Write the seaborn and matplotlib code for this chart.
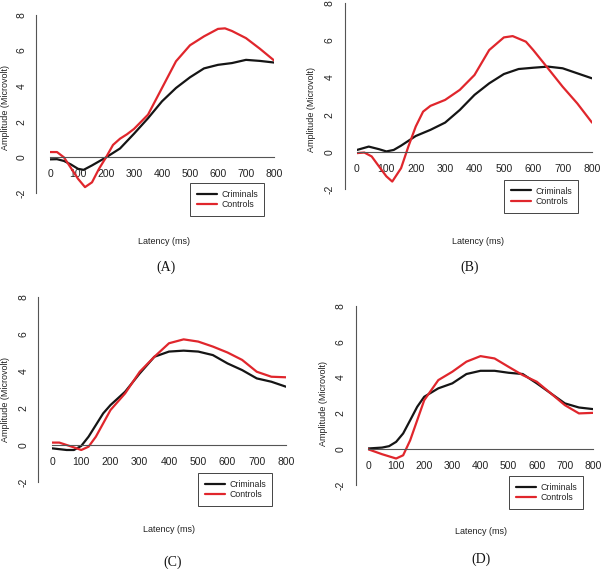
import numpy as np
import pandas as pd
import matplotlib
matplotlib.use('Agg')
import matplotlib.pyplot as plt
from matplotlib.lines import Line2D
import seaborn as sns

# ---- data (latency in ms, amplitude in microvolt) ----
lat_a_crim = [0, 25, 50, 75, 100, 120, 150, 200, 250, 300, 350, 400, 450, 500, 550, 600, 650, 700, 750, 800]
amp_a_crim = [-0.11, -0.1, -0.2, -0.4, -0.64, -0.7, -0.45, 0.0, 0.5, 1.33, 2.2, 3.15, 3.9, 4.5, 5.0, 5.2, 5.3, 5.48, 5.42, 5.33]
lat_a_ctrl = [0, 25, 50, 75, 100, 125, 150, 175, 200, 225, 250, 275, 300, 350, 400, 450, 500, 550, 600, 625, 650, 700, 750, 800]
amp_a_ctrl = [0.3, 0.3, 0.0, -0.6, -1.2, -1.67, -1.4, -0.64, 0.0, 0.7, 1.05, 1.3, 1.6, 2.4, 3.9, 5.4, 6.3, 6.8, 7.22, 7.25, 7.1, 6.7, 6.1, 5.45]

lat_b_crim = [0, 40, 75, 100, 125, 150, 200, 250, 300, 350, 400, 450, 500, 550, 600, 650, 700, 750, 800]
amp_b_crim = [0.1, 0.28, 0.14, 0.02, 0.1, 0.33, 0.85, 1.18, 1.57, 2.25, 3.06, 3.68, 4.18, 4.45, 4.52, 4.58, 4.49, 4.22, 3.95]
lat_b_ctrl = [0, 25, 50, 75, 100, 120, 150, 175, 200, 225, 250, 300, 350, 400, 450, 500, 530, 575, 600, 650, 700, 750, 800]
amp_b_ctrl = [-0.07, -0.04, -0.25, -0.79, -1.32, -1.6, -0.88, 0.29, 1.36, 2.16, 2.47, 2.79, 3.33, 4.13, 5.47, 6.15, 6.22, 5.92, 5.47, 4.49, 3.5, 2.6, 1.57]

lat_c_crim = [0, 50, 75, 100, 125, 150, 175, 200, 250, 300, 350, 400, 450, 500, 550, 600, 650, 700, 750, 800]
amp_c_crim = [-0.18, -0.27, -0.27, -0.05, 0.45, 1.08, 1.71, 2.16, 2.88, 3.87, 4.77, 5.05, 5.1, 5.05, 4.86, 4.41, 4.05, 3.6, 3.42, 3.15]
lat_c_ctrl = [0, 25, 50, 75, 100, 125, 150, 175, 200, 250, 300, 350, 400, 450, 500, 550, 600, 650, 700, 750, 800]
amp_c_ctrl = [0.13, 0.13, 0.0, -0.13, -0.27, -0.09, 0.45, 1.17, 1.89, 2.79, 3.96, 4.77, 5.5, 5.71, 5.59, 5.32, 5.0, 4.6, 3.96, 3.69, 3.66]

lat_d_crim = [0, 50, 75, 100, 125, 150, 175, 200, 250, 300, 350, 400, 450, 500, 550, 600, 650, 700, 750, 800]
amp_d_crim = [0.04, 0.09, 0.17, 0.41, 0.88, 1.62, 2.37, 2.93, 3.4, 3.68, 4.2, 4.38, 4.38, 4.27, 4.2, 3.68, 3.12, 2.56, 2.33, 2.24]
lat_d_ctrl = [0, 50, 100, 125, 150, 175, 200, 250, 300, 350, 400, 450, 500, 550, 600, 650, 700, 750, 800]
amp_d_ctrl = [0.0, -0.28, -0.52, -0.34, 0.5, 1.62, 2.74, 3.86, 4.33, 4.89, 5.2, 5.07, 4.6, 4.14, 3.77, 3.12, 2.46, 2.0, 2.03]

groups = ['Criminals', 'Controls']
colores = {'Criminals': '#151515', 'Controls': '#e0262c'}
x_ticks = [0, 100, 200, 300, 400, 500, 600, 700, 800]
y_ticks = [-2, 0, 2, 4, 6, 8]

W, H = 601, 569

# pixel geometry of each panel (layout only)
paneles = [
    dict(tag='(A)', crim=(lat_a_crim, amp_a_crim), ctrl=(lat_a_ctrl, amp_a_ctrl),
         x0=50, x1=274, ytop=15, ybot=193, spine=40, leg=(190, 183), lat=(164, 242), cap=(166, 267), ylab=(6, 108)),
    dict(tag='(B)', crim=(lat_b_crim, amp_b_crim), ctrl=(lat_b_ctrl, amp_b_ctrl),
         x0=357, x1=592, ytop=3, ybot=189, spine=348, leg=(504, 180), lat=(478, 242), cap=(470, 267), ylab=(312, 109)),
    dict(tag='(C)', crim=(lat_c_crim, amp_c_crim), ctrl=(lat_c_ctrl, amp_c_ctrl),
         x0=52, x1=286, ytop=297, ybot=482, spine=42, leg=(198, 473), lat=(169, 530), cap=(173, 562), ylab=(6, 399)),
    dict(tag='(D)', crim=(lat_d_crim, amp_d_crim), ctrl=(lat_d_ctrl, amp_d_ctrl),
         x0=368, x1=593, ytop=306, ybot=485, spine=359, leg=(509, 476), lat=(481, 531), cap=(481, 559), ylab=(323, 404)),
]

sns.set_style("white")
plt.rcParams['font.family'] = ['Liberation Sans', 'DejaVu Sans']
plt.rcParams['axes.unicode_minus'] = False

fig = plt.figure(figsize=(W / 100, H / 100), dpi=100)
gris = '#555555'

for p in paneles:
    ax = fig.add_axes([p['x0'] / W, 1 - p['ybot'] / H, (p['x1'] - p['x0']) / W, (p['ybot'] - p['ytop']) / H])
    ax.patch.set_alpha(0)

    df = pd.concat([
        pd.DataFrame({'latency': p['crim'][0], 'amp': p['crim'][1], 'group': 'Criminals'}),
        pd.DataFrame({'latency': p['ctrl'][0], 'amp': p['ctrl'][1], 'group': 'Controls'}),
    ])
    sns.lineplot(data=df, x='latency', y='amp', hue='group', hue_order=groups, palette=colores,
                 linewidth=1.6, legend=False, ax=ax, sort=True)
    for ln in ax.get_lines():
        ln.set_solid_joinstyle('round')
        ln.set_solid_capstyle('round')

    ax.set_xlim(0, 800)
    ax.set_ylim(-2, 8)
    ax.set_xlabel('')
    ax.set_ylabel('')
    for s in ['top', 'right']:
        ax.spines[s].set_visible(False)
    ax.spines['left'].set_position(('outward', p['x0'] - p['spine']))
    ax.spines['left'].set_bounds(-2, 8)
    ax.spines['bottom'].set_position(('data', 0))
    ax.spines['bottom'].set_bounds(0, 800)
    for s in ['left', 'bottom']:
        ax.spines[s].set_color(gris)
        ax.spines[s].set_linewidth(0.8)

    ax.set_xticks(x_ticks)
    ax.set_yticks(y_ticks)
    ax.tick_params(axis='x', direction='in', length=3, width=0.7, color=gris, pad=8.5, labelsize=7.5, labelcolor='#222222')
    ax.tick_params(axis='y', direction='out', length=3.6, width=0.7, color=gris, pad=3.5, labelsize=7.5,
                   labelcolor='#222222', labelrotation=90)
    for lab in ax.get_yticklabels():
        lab.set_va('center')

    handles = [Line2D([], [], color=colores[g], lw=1.6) for g in groups]
    ax.legend(handles, groups, loc='upper left', bbox_to_anchor=(p['leg'][0] / W, 1 - p['leg'][1] / H),
              bbox_transform=fig.transFigure, frameon=True, fancybox=False, edgecolor='#444444',
              fontsize=6.3, borderaxespad=0, borderpad=0.75, handlelength=2.3, handletextpad=0.5,
              labelspacing=0.2, framealpha=1)
    ax.get_legend().get_frame().set_linewidth(0.7)

    fig.text(p['ylab'][0] / W, 1 - p['ylab'][1] / H, 'Amplitude (Microvolt)', rotation=90,
             ha='center', va='center', fontsize=6.5, color='#222222')
    fig.text(p['lat'][0] / W, 1 - p['lat'][1] / H, 'Latency (ms)', ha='center', va='center',
             fontsize=6.5, color='#222222')
    fig.text(p['cap'][0] / W, 1 - p['cap'][1] / H, p['tag'], ha='center', va='center',
             fontsize=10, family=['Liberation Serif', 'DejaVu Serif'], color='#111111')

fig.savefig('out.png', dpi=100)
